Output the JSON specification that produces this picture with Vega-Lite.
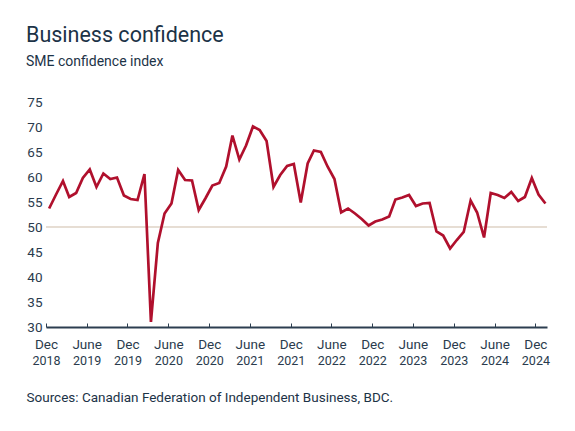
{
  "$schema": "https://vega.github.io/schema/vega-lite/v6.json",
  "width": 501,
  "height": 225,
  "autosize": {"type": "none"},
  "padding": {"left": 46, "top": 102, "right": 28, "bottom": 104},
  "background": "white",
  "config": {"font": "Roboto", "view": {"stroke": null}},
  "title": {
    "text": "Business confidence",
    "subtitle": "SME confidence index",
    "anchor": "start",
    "frame": "group",
    "dx": -20,
    "offset": 26,
    "fontSize": 21.5,
    "fontWeight": "normal",
    "color": "#1c3347",
    "subtitleFontSize": 14,
    "subtitleColor": "#1c3347",
    "subtitlePadding": 9
  },
  "data": {
    "values": [
      {"date": "2018-12-15", "index": 53.7},
      {"date": "2019-01-15", "index": 56.5},
      {"date": "2019-02-15", "index": 59.2},
      {"date": "2019-03-15", "index": 56.0},
      {"date": "2019-04-15", "index": 56.8},
      {"date": "2019-05-15", "index": 59.8},
      {"date": "2019-06-15", "index": 61.5},
      {"date": "2019-07-15", "index": 58.0},
      {"date": "2019-08-15", "index": 60.7},
      {"date": "2019-09-15", "index": 59.6},
      {"date": "2019-10-15", "index": 59.9},
      {"date": "2019-11-15", "index": 56.3},
      {"date": "2019-12-15", "index": 55.6},
      {"date": "2020-01-15", "index": 55.4},
      {"date": "2020-02-15", "index": 60.6},
      {"date": "2020-03-15", "index": 31.0},
      {"date": "2020-04-15", "index": 46.8},
      {"date": "2020-05-15", "index": 52.7},
      {"date": "2020-06-15", "index": 54.7},
      {"date": "2020-07-15", "index": 61.4},
      {"date": "2020-08-15", "index": 59.4},
      {"date": "2020-09-15", "index": 59.3},
      {"date": "2020-10-15", "index": 53.4},
      {"date": "2020-11-15", "index": 55.8},
      {"date": "2020-12-15", "index": 58.3},
      {"date": "2021-01-15", "index": 58.8},
      {"date": "2021-02-15", "index": 62.1},
      {"date": "2021-03-15", "index": 68.3},
      {"date": "2021-04-15", "index": 63.5},
      {"date": "2021-05-15", "index": 66.3},
      {"date": "2021-06-15", "index": 70.1},
      {"date": "2021-07-15", "index": 69.4},
      {"date": "2021-08-15", "index": 67.2},
      {"date": "2021-09-15", "index": 58.0},
      {"date": "2021-10-15", "index": 60.4},
      {"date": "2021-11-15", "index": 62.2},
      {"date": "2021-12-15", "index": 62.6},
      {"date": "2022-01-15", "index": 54.9},
      {"date": "2022-02-15", "index": 62.7},
      {"date": "2022-03-15", "index": 65.3},
      {"date": "2022-04-15", "index": 65.0},
      {"date": "2022-05-15", "index": 62.1},
      {"date": "2022-06-15", "index": 59.6},
      {"date": "2022-07-15", "index": 52.9},
      {"date": "2022-08-15", "index": 53.7},
      {"date": "2022-09-15", "index": 52.7},
      {"date": "2022-10-15", "index": 51.6},
      {"date": "2022-11-15", "index": 50.3},
      {"date": "2022-12-15", "index": 51.1},
      {"date": "2023-01-15", "index": 51.5},
      {"date": "2023-02-15", "index": 52.1},
      {"date": "2023-03-15", "index": 55.5},
      {"date": "2023-04-15", "index": 55.9},
      {"date": "2023-05-15", "index": 56.4},
      {"date": "2023-06-15", "index": 54.2},
      {"date": "2023-07-15", "index": 54.7},
      {"date": "2023-08-15", "index": 54.8},
      {"date": "2023-09-15", "index": 49.1},
      {"date": "2023-10-15", "index": 48.3},
      {"date": "2023-11-15", "index": 45.7},
      {"date": "2023-12-15", "index": 47.4},
      {"date": "2024-01-15", "index": 49.0},
      {"date": "2024-02-15", "index": 55.3},
      {"date": "2024-03-15", "index": 52.9},
      {"date": "2024-04-15", "index": 47.9},
      {"date": "2024-05-15", "index": 56.8},
      {"date": "2024-06-15", "index": 56.4},
      {"date": "2024-07-15", "index": 55.8},
      {"date": "2024-08-15", "index": 57.0},
      {"date": "2024-09-15", "index": 55.2},
      {"date": "2024-10-15", "index": 56.0},
      {"date": "2024-11-15", "index": 59.8},
      {"date": "2024-12-15", "index": 56.5},
      {"date": "2025-01-15", "index": 54.7}
    ]
  },
  "layer": [
    {
      "mark": {"type": "rule", "color": "#e6ddd3", "strokeWidth": 1},
      "encoding": {
        "y": {
          "datum": 50,
          "type": "quantitative",
          "scale": {"domain": [30, 75], "nice": false, "zero": false},
          "axis": {
            "title": null,
            "grid": false,
            "domain": false,
            "ticks": false,
            "values": [30, 35, 40, 45, 50, 55, 60, 65, 70, 75],
            "labelFontSize": 13.5,
            "labelColor": "#2a3b4d",
            "labelPadding": 4
          }
        }
      }
    },
    {
      "mark": {"type": "line", "color": "#b0102d", "strokeWidth": 2.7},
      "encoding": {
        "x": {
          "field": "date",
          "type": "temporal",
          "scale": {
            "type": "utc",
            "domain": [
              {"year": 2018, "month": 12, "date": 1, "utc": true},
              {"year": 2025, "month": 1, "date": 22, "utc": true}
            ]
          },
          "axis": {
            "orient": "bottom",
            "title": null,
            "grid": false,
            "values": [
              {"year": 2018, "month": 12, "date": 1, "utc": true},
              {"year": 2019, "month": 6, "date": 1, "utc": true},
              {"year": 2019, "month": 12, "date": 1, "utc": true},
              {"year": 2020, "month": 6, "date": 1, "utc": true},
              {"year": 2020, "month": 12, "date": 1, "utc": true},
              {"year": 2021, "month": 6, "date": 1, "utc": true},
              {"year": 2021, "month": 12, "date": 1, "utc": true},
              {"year": 2022, "month": 6, "date": 1, "utc": true},
              {"year": 2022, "month": 12, "date": 1, "utc": true},
              {"year": 2023, "month": 6, "date": 1, "utc": true},
              {"year": 2023, "month": 12, "date": 1, "utc": true},
              {"year": 2024, "month": 6, "date": 1, "utc": true},
              {"year": 2024, "month": 12, "date": 1, "utc": true}
            ],
            "labelExpr": "utcmonth(datum.value) == 11 ? 'Dec' : 'June'",
            "labelFlush": false,
            "labelOverlap": false,
            "labelFontSize": 13.5,
            "labelColor": "#2a3b4d",
            "labelPadding": 14,
            "domainColor": "#2c3e50",
            "domainWidth": 2,
            "tickColor": "#2c3e50",
            "tickSize": -4,
            "tickWidth": 1
          }
        },
        "y": {
          "field": "index",
          "type": "quantitative",
          "scale": {"domain": [30, 75], "nice": false, "zero": false},
          "axis": {
            "title": null,
            "grid": false,
            "domain": false,
            "ticks": false,
            "values": [30, 35, 40, 45, 50, 55, 60, 65, 70, 75],
            "labelFontSize": 13.5,
            "labelColor": "#2a3b4d",
            "labelPadding": 4
          }
        }
      }
    },
    {
      "mark": {"type": "line", "opacity": 0},
      "encoding": {
        "x": {
          "field": "date",
          "type": "temporal",
          "axis": {
            "orient": "bottom",
            "title": "Sources: Canadian Federation of Independent Business, BDC.",
            "titleX": -20,
            "titleY": 74,
            "titleAlign": "left",
            "titleAnchor": "start",
            "titleBaseline": "alphabetic",
            "titleFontSize": 13.5,
            "titleFontWeight": "normal",
            "titleColor": "#1c3347",
            "grid": false,
            "domain": false,
            "ticks": false,
            "values": [
              {"year": 2018, "month": 12, "date": 1, "utc": true},
              {"year": 2019, "month": 6, "date": 1, "utc": true},
              {"year": 2019, "month": 12, "date": 1, "utc": true},
              {"year": 2020, "month": 6, "date": 1, "utc": true},
              {"year": 2020, "month": 12, "date": 1, "utc": true},
              {"year": 2021, "month": 6, "date": 1, "utc": true},
              {"year": 2021, "month": 12, "date": 1, "utc": true},
              {"year": 2022, "month": 6, "date": 1, "utc": true},
              {"year": 2022, "month": 12, "date": 1, "utc": true},
              {"year": 2023, "month": 6, "date": 1, "utc": true},
              {"year": 2023, "month": 12, "date": 1, "utc": true},
              {"year": 2024, "month": 6, "date": 1, "utc": true},
              {"year": 2024, "month": 12, "date": 1, "utc": true}
            ],
            "labelExpr": "utcFormat(datum.value, '%Y')",
            "labelFlush": false,
            "labelOverlap": false,
            "labelFontSize": 12.5,
            "labelColor": "#2a3b4d",
            "labelPadding": 27
          }
        },
        "y": {
          "field": "index",
          "type": "quantitative",
          "scale": {"domain": [30, 75], "nice": false, "zero": false},
          "axis": {
            "title": null,
            "grid": false,
            "domain": false,
            "ticks": false,
            "values": [30, 35, 40, 45, 50, 55, 60, 65, 70, 75],
            "labelFontSize": 13.5,
            "labelColor": "#2a3b4d",
            "labelPadding": 4
          }
        }
      }
    }
  ],
  "resolve": {"axis": {"x": "independent"}}
}
